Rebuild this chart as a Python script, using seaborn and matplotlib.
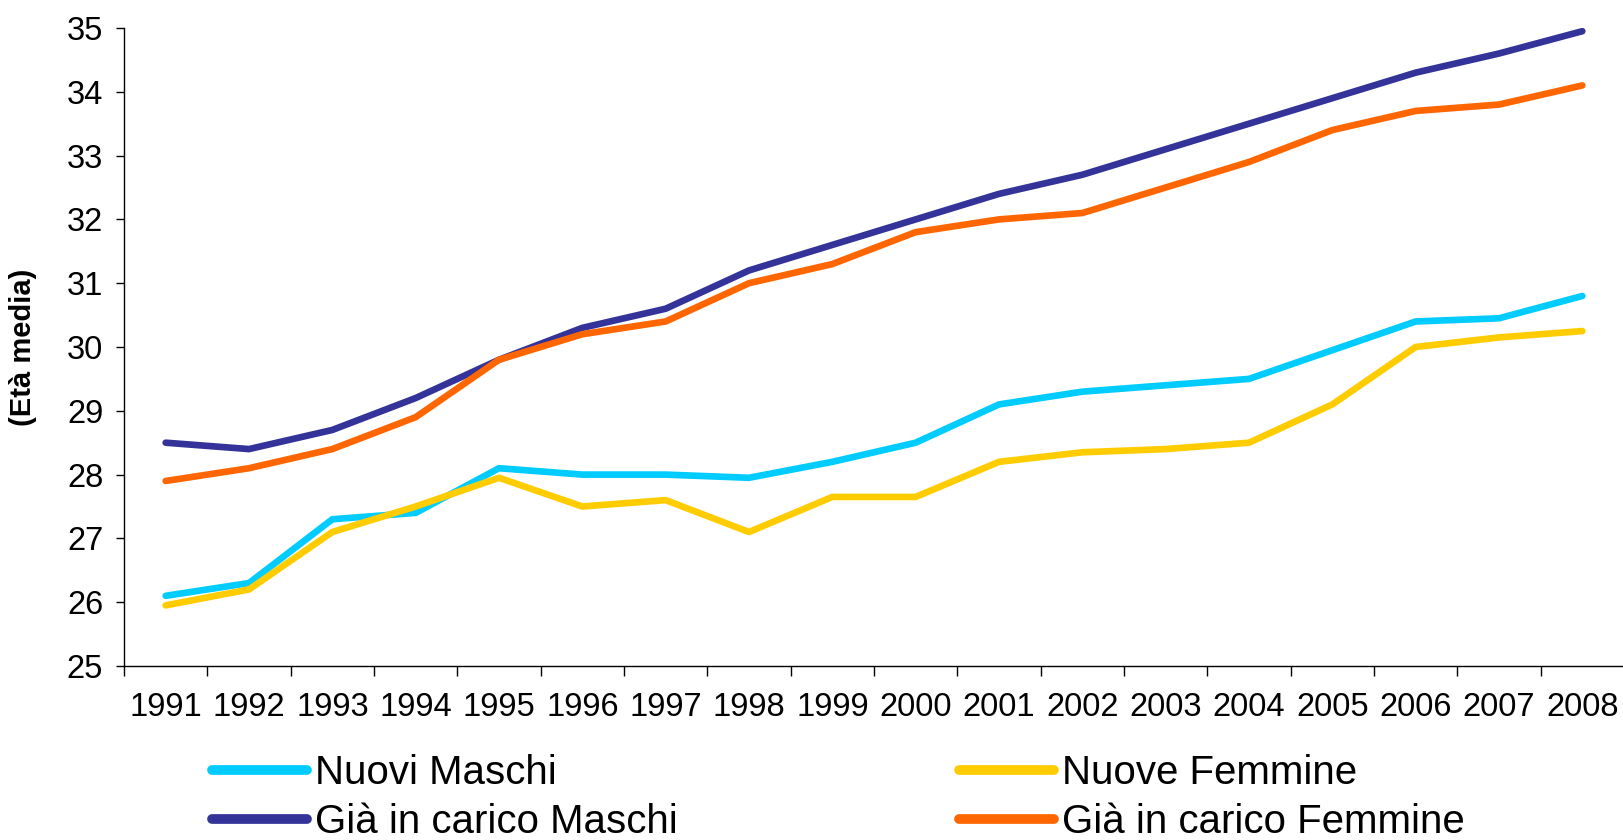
import matplotlib
matplotlib.use("Agg")
import matplotlib.pyplot as plt
from matplotlib.lines import Line2D
import seaborn as sns
import pandas as pd
import numpy as np

years = [str(y) for y in range(1991, 2009)]

nuovi_maschi = [26.1, 26.3, 27.3, 27.4, 28.1, 28.0, 28.0, 27.95, 28.2, 28.5,
                29.1, 29.3, 29.4, 29.5, 29.95, 30.4, 30.45, 30.8]
nuove_femmine = [25.95, 26.2, 27.1, 27.5, 27.95, 27.5, 27.6, 27.1, 27.65, 27.65,
                 28.2, 28.35, 28.4, 28.5, 29.1, 30.0, 30.15, 30.25]
gia_maschi = [28.5, 28.4, 28.7, 29.2, 29.8, 30.3, 30.6, 31.2, 31.6, 32.0,
              32.4, 32.7, 33.1, 33.5, 33.9, 34.3, 34.6, 34.95]
gia_femmine = [27.9, 28.1, 28.4, 28.9, 29.8, 30.2, 30.4, 31.0, 31.3, 31.8,
               32.0, 32.1, 32.5, 32.9, 33.4, 33.7, 33.8, 34.1]

series_names = ["Nuovi Maschi", "Nuove Femmine",
                "Già in carico Maschi", "Già in carico Femmine"]
series_colors = ["#00CCFF", "#FFCC00", "#333399", "#FF6600"]
y_ticks = list(range(25, 36))

df = pd.DataFrame({
    "anno": years * 4,
    "eta": nuovi_maschi + nuove_femmine + gia_maschi + gia_femmine,
    "serie": np.repeat(series_names, len(years)),
})
df["pos"] = df["anno"].map({y: i for i, y in enumerate(years)})

sns.set_style("white", {"text.color": "black", "axes.labelcolor": "black",
                        "xtick.color": "black", "ytick.color": "black"})
plt.rcParams["font.family"] = ["Liberation Sans", "DejaVu Sans"]

fig = plt.figure(figsize=(16.24, 8.4), dpi=100)
ax = fig.add_axes([124 / 1624, 1 - 666 / 840, 1 - 124 / 1624, (666 - 28) / 840])

sns.lineplot(data=df, x="pos", y="eta", hue="serie", hue_order=series_names,
             palette=series_colors, linewidth=4.8, ax=ax, legend=False,
             solid_capstyle="round")

ax.set_xlim(-0.5, len(years) - 0.5)
ax.set_ylim(25, 35)
ax.set_yticks(y_ticks)
ax.set_xticks(range(len(years)))
ax.set_xticklabels(years)
ax.set_xticks(np.arange(-0.5, len(years) - 0.4, 1.0), minor=True)
ax.tick_params(axis="x", which="major", length=0, pad=19, labelsize=23.5,
               labelcolor="black")
ax.tick_params(axis="x", which="minor", length=7, width=1, color="black",
               direction="out", bottom=True)
ax.tick_params(axis="y", length=6, width=1, color="black", direction="out",
               left=True, pad=9, labelsize=23.5, labelcolor="black")

for side in ["top", "right"]:
    ax.spines[side].set_visible(False)
for side in ["left", "bottom"]:
    ax.spines[side].set_color("black")
    ax.spines[side].set_linewidth(1)

ax.set_xlabel("")
ax.set_ylabel("(Età media)", fontsize=21, fontweight="bold", color="black")
ax.yaxis.set_label_coords(-0.058, 0.5)

# legend: row 1 = Nuovi, row 2 = Già (columns fill top-down)
order = [0, 2, 1, 3]
handles = [Line2D([0], [0], color=series_colors[i], lw=7, solid_capstyle="round")
           for i in order]
labels = [series_names[i] for i in order]
fig.legend(handles, labels, ncol=2, loc="upper left",
           bbox_to_anchor=(212 / 1624, 1 - 754 / 840), frameon=False,
           fontsize=29, handlelength=2.35, handletextpad=0.2,
           columnspacing=7.0, labelspacing=0.28, borderpad=0, borderaxespad=0,
           labelcolor="black")

fig.savefig("out.png", dpi=100)
